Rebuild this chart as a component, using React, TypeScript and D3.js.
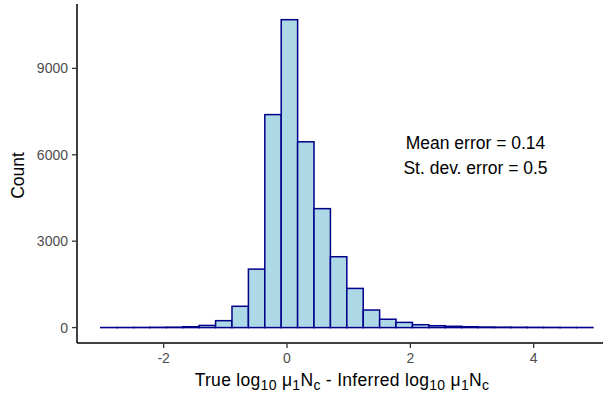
import React from "react";
import * as d3 from "d3";

const binStart = -3.02;
const binWidth = 0.266;
const counts = [3, 4, 6, 10, 15, 30, 75, 240, 740, 2030, 7395, 10690, 6450, 4130, 2460, 1360, 610, 290, 180, 100, 65, 45, 30, 20, 15, 12, 9, 7, 5, 4];
const xTicks = [-2, 0, 2, 4];
const yTicks = [0, 3000, 6000, 9000];
const annotations = ["Mean error = 0.14", "St. dev. error = 0.5"];

const W = 608, H = 398;
const left = 77, right = 603, top = 4, bottom = 343;

export default function App() {
  const x = d3.scaleLinear().domain([(left - 287) / 61.67, (right - 287) / 61.67]).range([left, right]);
  const y = d3.scaleLinear().domain([-535, 11235]).range([bottom, top]);
  const font = "Liberation Sans, Arial, Helvetica, sans-serif";
  const sub = 14;
  return (
    <svg width={W} height={H} style={{ position: "absolute", left: 0, top: 0, background: "#fff" }} fontFamily={font}>
      <rect width={W} height={H} fill="#fff" />
      {counts.map((c, i) => {
        const x0 = x(binStart + i * binWidth);
        const x1 = x(binStart + (i + 1) * binWidth);
        return (
          <rect key={i} x={x0} y={y(c)} width={x1 - x0} height={y(0) - y(c)} fill="#add8e6" stroke="#00008b" strokeWidth={1.5} />
        );
      })}
      <line x1={left} x2={left} y1={top} y2={bottom} stroke="#000" strokeWidth={1.5} />
      <line x1={left} x2={right} y1={bottom} y2={bottom} stroke="#000" strokeWidth={1.5} />
      {yTicks.map(t => (
        <g key={t}>
          <line x1={left - 5} x2={left} y1={y(t)} y2={y(t)} stroke="#333" strokeWidth={1.3} />
          <text x={left - 9} y={y(t)} dy="0.36em" textAnchor="end" fontSize={14} fill="#4d4d4d">{t}</text>
        </g>
      ))}
      {xTicks.map(t => (
        <g key={t}>
          <line x1={x(t)} x2={x(t)} y1={bottom} y2={bottom + 5} stroke="#333" strokeWidth={1.3} />
          <text x={x(t)} y={363} textAnchor="middle" fontSize={14} fill="#4d4d4d">{t}</text>
        </g>
      ))}
      <text transform={`translate(24,${(top + bottom) / 2 + 2}) rotate(-90)`} textAnchor="middle" fontSize={17.5} fill="#000">Count</text>
      <text x={342} y={386} textAnchor="middle" fontSize={17.5} fill="#000" letterSpacing={0.3}>
        <tspan>True log</tspan>
        <tspan fontSize={sub} dy={4}>10</tspan>
        <tspan dy={-4}> μ</tspan>
        <tspan fontSize={sub} dy={4}>1</tspan>
        <tspan dy={-4}>N</tspan>
        <tspan fontSize={sub} dy={4}>c</tspan>
        <tspan dy={-4}> - Inferred log</tspan>
        <tspan fontSize={sub} dy={4}>10</tspan>
        <tspan dy={-4}> μ</tspan>
        <tspan fontSize={sub} dy={4}>1</tspan>
        <tspan dy={-4}>N</tspan>
        <tspan fontSize={sub} dy={4}>c</tspan>
      </text>
      {annotations.map((a, i) => (
        <text key={i} x={475.5} y={148.5 + i * 25.5} textAnchor="middle" fontSize={17.5} fill="#000">{a}</text>
      ))}
    </svg>
  );
}
